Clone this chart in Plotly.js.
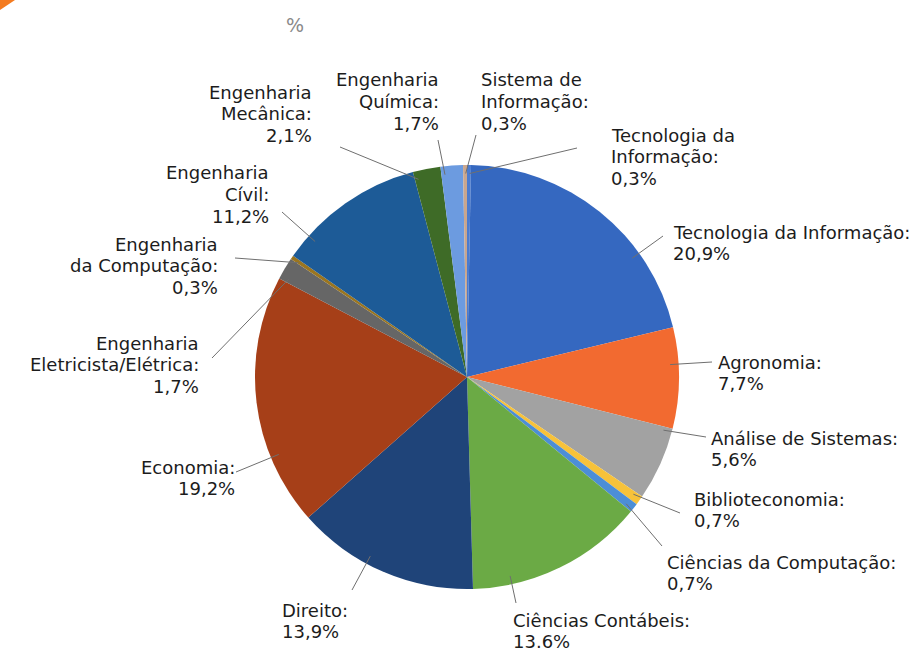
<!DOCTYPE html>
<html>
<head>
<meta charset="utf-8">
<script src="https://cdn.plot.ly/plotly-3.0.1.min.js"></script>
<style>html,body{margin:0;padding:0;background:#fff;}#chart{width:916px;height:655px;}</style>
</head>
<body>
<div id="chart"></div>
<script>
// ---- data ----
var categories = [
  "Tecnologia da Informação",
  "Tecnologia da Informação",
  "Agronomia",
  "Análise de Sistemas",
  "Biblioteconomia",
  "Ciências da Computação",
  "Ciências Contábeis",
  "Direito",
  "Economia",
  "Engenharia Eletricista/Elétrica",
  "Engenharia da Computação",
  "Engenharia Cívil",
  "Engenharia Mecânica",
  "Engenharia Química",
  "Sistema de Informação"
];
var values = [0.3, 20.9, 7.7, 5.6, 0.7, 0.7, 13.6, 13.9, 19.2, 1.7, 0.3, 11.2, 2.1, 1.7, 0.3];
var valueText = ["0,3%", "20,9%", "7,7%", "5,6%", "0,7%", "0,7%", "13.6%", "13,9%", "19,2%", "1,7%", "0,3%", "11,2%", "2,1%", "1,7%", "0,3%"];
// label text as broken in the picture
var labelLines = [
  ["Tecnologia da", "Informação:"],
  ["Tecnologia da Informação:"],
  ["Agronomia:"],
  ["Análise de Sistemas:"],
  ["Biblioteconomia:"],
  ["Ciências da Computação:"],
  ["Ciências Contábeis:"],
  ["Direito:"],
  ["Economia:"],
  ["Engenharia", "Eletricista/Elétrica:"],
  ["Engenharia", "da Computação:"],
  ["Engenharia", "Cívil:"],
  ["Engenharia", "Mecânica:"],
  ["Engenharia", "Química:"],
  ["Sistema de", "Informação:"]
];

// ---- styles / layout ----
var colors = ["#4a7bd0", "#3568C0", "#F26A30", "#A2A2A2", "#F7C23A", "#4C8ED6", "#6BAA45",
              "#1F4479", "#A63F18", "#666666", "#9A7520", "#1D5B97", "#3E6B27", "#6C9BE0", "#C9A68E"];
var W = 916, H = 655;
var cx = 467, cy = 377, R = 212;
var FONT = "'DejaVu Sans', Verdana, sans-serif";
var FSIZE = 18, LINE = 21.5;
// label block: [x px, y px of first line centre, side]
var labelPos = [
  [610, 135, "left"], [672, 232, "left"], [717, 362, "left"], [710, 438, "left"],
  [693, 499, "left"], [666, 562, "left"], [512, 620, "left"], [281, 610, "left"],
  [236, 467, "right"], [200, 343, "right"], [219, 244, "right"], [270, 173, "right"],
  [313, 92, "right"], [440, 80, "right"], [480, 80, "left"]
];
// outer end of leader line (px)
var leaderEnd = [
  [577, 148], [663, 236], [712, 362], [706, 437], [680, 513], [662, 546], [516, 603],
  [352, 590], [236, 472], [212, 358], [235, 258], [282, 212], [340, 147], [438, 140], [476, 135]
];

function px2x(p) { return p / W; }
function py2y(p) { return 1 - p / H; }

var total = values.reduce(function (a, b) { return a + b; }, 0);
var shapes = [];
var annotations = [];
var cum = 0;
for (var i = 0; i < values.length; i++) {
  var a0 = cum / total * 360;
  cum += values[i];
  var a1 = cum / total * 360;
  var e = leaderEnd[i];
  var ang = Math.atan2(e[0] - cx, -(e[1] - cy)) * 180 / Math.PI;
  if (ang < 0) ang += 360;
  var m = Math.min(1, (a1 - a0) / 3);
  var lo = a0 + m, hi = a1 - m;
  if (ang < lo || ang > hi) {
    var dlo = Math.min(Math.abs(ang - lo), 360 - Math.abs(ang - lo));
    var dhi = Math.min(Math.abs(ang - hi), 360 - Math.abs(ang - hi));
    ang = dlo < dhi ? lo : hi;
  }
  var rr = R * 0.96;
  var t = ang * Math.PI / 180;
  var px = cx + rr * Math.sin(t), py = cy - rr * Math.cos(t);
  shapes.push({type: "line", xref: "paper", yref: "paper",
    x0: px2x(e[0]), y0: py2y(e[1]), x1: px2x(px), y1: py2y(py),
    line: {color: "#6f6f6f", width: 1}, layer: "above"});
  var lp = labelPos[i];
  var lines = labelLines[i].concat([valueText[i]]);
  for (var k = 0; k < lines.length; k++) {
    var yy = lp[1] + k * LINE;
    annotations.push({xref: "paper", yref: "paper", x: px2x(lp[0]), y: py2y(yy),
      xanchor: lp[2], yanchor: "middle", align: lp[2], showarrow: false,
      text: lines[k], borderpad: 0,
      font: {family: FONT, size: FSIZE, color: "#1c1c1c"}});
  }
}
annotations.push({xref: "paper", yref: "paper", x: px2x(295), y: py2y(25), xanchor: "center", yanchor: "middle",
  showarrow: false, text: "%", font: {family: FONT, size: 19, color: "#8a8a8a"}});
shapes.push({type: "path", xref: "paper", yref: "paper",
  path: "M0,1 L" + px2x(15) + ",1 L0," + py2y(10) + " Z",
  fillcolor: "#F47B20", line: {width: 0}});

var trace = {
  type: "pie",
  labels: categories.map(function (c, i) { return c + " " + i; }),
  values: values,
  sort: false,
  direction: "clockwise",
  rotation: 0,
  textinfo: "none",
  hoverinfo: "none",
  marker: {colors: colors, line: {width: 0}},
  domain: {x: [(cx - R) / W, (cx + R) / W], y: [(H - cy - R) / H, (H - cy + R) / H]},
  showlegend: false
};

Plotly.newPlot("chart", [trace], {
  width: W, height: H,
  margin: {l: 0, r: 0, t: 0, b: 0},
  paper_bgcolor: "#fff",
  showlegend: false,
  shapes: shapes,
  annotations: annotations
}, {displayModeBar: false, staticPlot: true});
</script>
</body>
</html>
